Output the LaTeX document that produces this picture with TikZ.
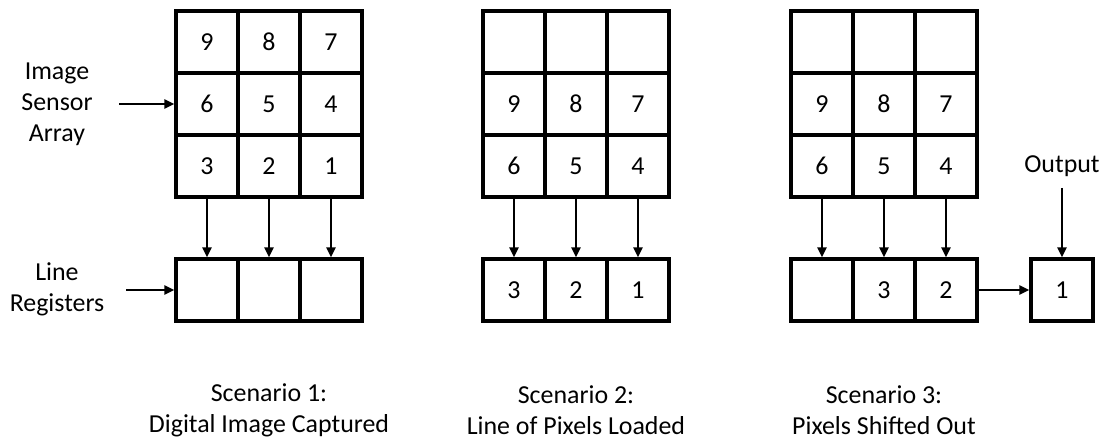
\documentclass[tikz,border=0pt]{standalone}
\usepackage{fontspec}
\setmainfont{Carlito}
\usetikzlibrary{arrows.meta}
\begin{document}
\begin{tikzpicture}[x=1bp,y=-1bp,
  cell/.style={draw, line width=3.3bp, minimum width=62bp, minimum height=62bp, inner sep=0pt, font=\fontsize{26}{31}\selectfont},
  conn/.style={line width=2.6bp, -{Triangle[length=10bp,width=9bp]}},
  lbl/.style={align=center, inner sep=0pt, font=\fontsize{26}{31}\selectfont}]
\path[use as bounding box, fill=white] (0,0) rectangle (1105,439);
% Scenario 1
\foreach \x/\y/\t/\nm in {207/42/9/a11,269/42/8/a12,331/42/7/a13,
                          207/104/6/a21,269/104/5/a22,331/104/4/a23,
                          207/166/3/a31,269/166/2/a32,331/166/1/a33,
                          207/290//ar1,269/290//ar2,331/290//ar3}
  {\node[cell] (\nm) at (\x,\y) {\t};}
% Scenario 2
\foreach \x/\y/\t/\nm in {514/42//b11,576/42//b12,638/42//b13,
                          514/104/9/b21,576/104/8/b22,638/104/7/b23,
                          514/166/6/b31,576/166/5/b32,638/166/4/b33,
                          514/290/3/br1,576/290/2/br2,638/290/1/br3}
  {\node[cell] (\nm) at (\x,\y) {\t};}
% Scenario 3
\foreach \x/\y/\t/\nm in {822/42//c11,884/42//c12,946/42//c13,
                          822/104/9/c21,884/104/8/c22,946/104/7/c23,
                          822/166/6/c31,884/166/5/c32,946/166/4/c33,
                          822/290//cr1,884/290/3/cr2,946/290/2/cr3,
                          1062/290/1/out}
  {\node[cell] (\nm) at (\x,\y) {\t};}
% vertical transfers
\foreach \s in {a,b,c}{
  \draw[conn] (\s31.south) -- (\s r1.north);
  \draw[conn] (\s32.south) -- (\s r2.north);
  \draw[conn] (\s33.south) -- (\s r3.north);
}
% side labels
\node[lbl] (isa) at (57,104) {Image\\Sensor\\Array};
\node[lbl] (lr) at (57,289) {Line\\Registers};
\coordinate (isaend) at (119,104);
\coordinate (lrend) at (126,290);
\draw[conn] (isaend) -- (a21.west);
\draw[conn] (lrend) -- (ar1.west);
% output
\node[lbl] (outl) at (1062,166) {Output};
\coordinate (outend) at (1062,188);
\draw[conn] (outend) -- (out.north);
\draw[conn] (cr3.east) -- (out.west);
% captions
\node[lbl] (cap1) at (269,410) {Scenario 1:\\Digital Image Captured};
\node[lbl] (cap2) at (576,410) {Scenario 2:\\Line of Pixels Loaded};
\node[lbl] (cap3) at (884,410) {Scenario 3:\\Pixels Shifted Out};
\end{tikzpicture}
\end{document}
